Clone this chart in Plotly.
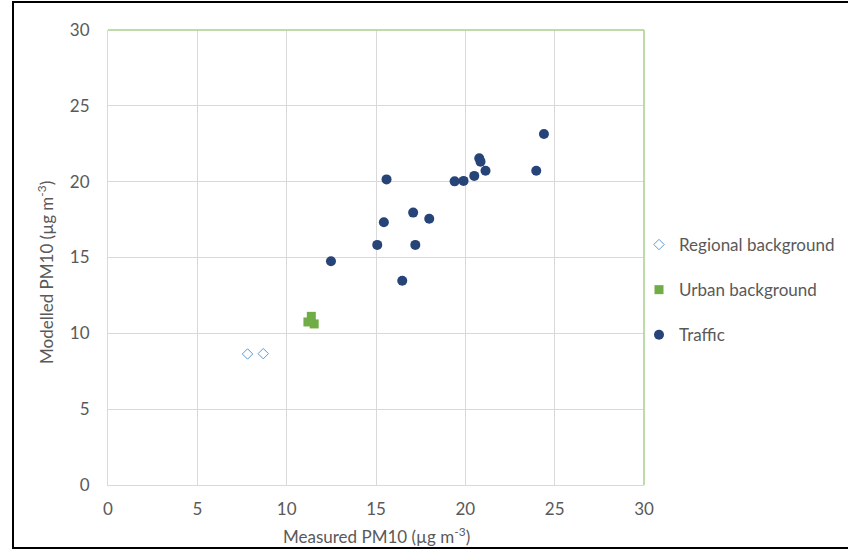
import plotly.graph_objects as go

# Data
regional_x = [7.81, 8.69]
regional_y = [8.64, 8.66]

urban_x = [11.38, 11.19, 11.54]
urban_y = [11.12, 10.75, 10.62]

traffic_x = [12.48, 15.07, 15.44, 15.59, 16.47, 17.08, 17.20, 17.98,
             19.40, 19.90, 20.50, 20.78, 20.85, 21.13, 23.97, 24.40]
traffic_y = [14.75, 15.83, 17.32, 20.15, 13.47, 17.96, 15.83, 17.56,
             20.02, 20.05, 20.38, 21.54, 21.32, 20.72, 20.72, 23.14]

axis_ticks = [0, 5, 10, 15, 20, 25, 30]

FONT = "Lato"
GREY = "#595959"
FS = 17

fig = go.Figure()
fig.add_trace(go.Scatter(
    x=regional_x, y=regional_y, mode="markers", name="Regional background",
    legendgroup="a",
    marker=dict(symbol="diamond-open", size=8, color="#5B9BD5", line=dict(width=1, color="#5B9BD5"))))
fig.add_trace(go.Scatter(
    x=urban_x, y=urban_y, mode="markers", name="Urban background",
    legendgroup="b",
    marker=dict(symbol="square", size=9, color="#70AD47")))
fig.add_trace(go.Scatter(
    x=traffic_x, y=traffic_y, mode="markers", name="Traffic",
    legendgroup="c",
    marker=dict(symbol="circle", size=10, color="#264478")))

axis_common = dict(
    range=[0, 30], tickvals=axis_ticks, ticktext=[str(t) for t in axis_ticks],
    showgrid=True, gridcolor="#D9D9D9", gridwidth=1,
    zeroline=False, showline=True, linecolor="#D9D9D9", linewidth=1,
    ticks="", tickfont=dict(family=FONT, size=FS, color=GREY),
    fixedrange=True,
)

fig.update_layout(
    width=848, height=550,
    margin=dict(l=108, r=204, t=30, b=65, autoexpand=False),
    paper_bgcolor="white", plot_bgcolor="white",
    font=dict(family=FONT, size=FS, color=GREY),
    showlegend=True,
    legend=dict(
        x=(639 - 108) / 536, xanchor="left", xref="paper",
        y=(485 - 290) / 455, yanchor="middle",
        font=dict(family=FONT, size=FS, color=GREY),
        tracegroupgap=20, itemwidth=30,
        bgcolor="rgba(0,0,0,0)",
    ),
    xaxis=dict(**axis_common, ticklabelstandoff=9),
    yaxis=dict(**axis_common, ticklabelstandoff=14),
)

# Axis titles as annotations
fig.add_annotation(
    text="Measured PM10 (µg m<sup>-3</sup>)", xref="paper", yref="paper",
    x=(376 - 108) / 536, y=(485 - 535) / 455, xanchor="center", yanchor="middle",
    showarrow=False, font=dict(family=FONT, size=FS, color=GREY))
fig.add_annotation(
    text="Modelled PM10 (µg m<sup>-3</sup>)", xref="paper", yref="paper",
    x=(45 - 108) / 536, y=(485 - 273) / 455, xanchor="center", yanchor="middle",
    textangle=-90, showarrow=False, font=dict(family=FONT, size=FS, color=GREY))

# Green top/right plot border
fig.add_shape(type="line", xref="paper", yref="paper", x0=0, x1=1, y0=1, y1=1,
              line=dict(color="#A9D18E", width=1.5))
fig.add_shape(type="line", xref="paper", yref="paper", x0=1, x1=1, y0=0, y1=1,
              line=dict(color="#A9D18E", width=1.5))

# Black outer frame
fig.add_shape(type="rect", xref="paper", yref="paper",
              x0=(13 - 108) / 536, x1=(851 - 108) / 536,
              y0=(485 - 548) / 455, y1=(485 - 2) / 455,
              line=dict(color="black", width=2), fillcolor="rgba(0,0,0,0)", layer="above")

fig.write_html("out.html", config={"displayModeBar": False},
               post_script="document.body.style.margin='0';document.body.style.overflow='hidden';")
